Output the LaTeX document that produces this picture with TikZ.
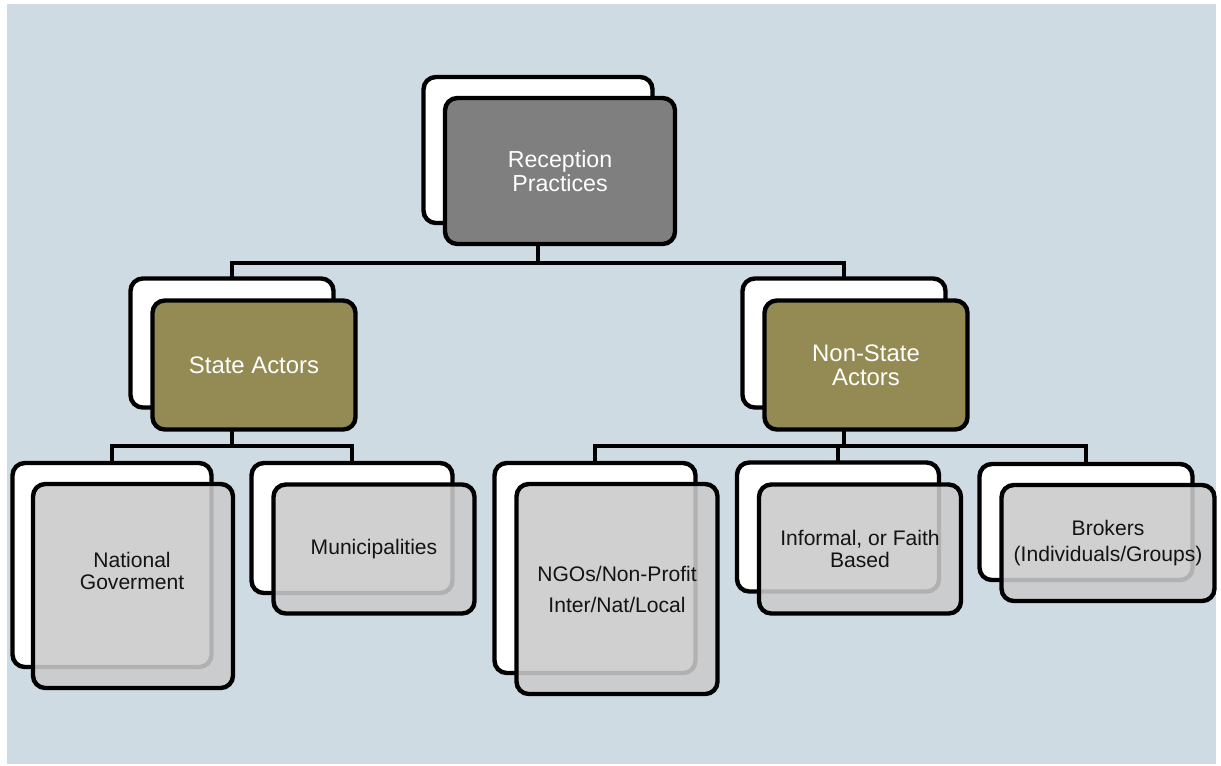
\documentclass[tikz,border=0pt]{standalone}
\usepackage{fontspec}
\setmainfont{Liberation Sans}
\usepackage{tikz}
\usetikzlibrary{backgrounds}
\usepackage{xcolor}
\definecolor{bgblue}{RGB}{207,219,227}
\definecolor{rootgray}{RGB}{127,127,127}
\definecolor{actorolive}{RGB}{148,138,84}
\definecolor{leafgray}{RGB}{202,202,202}
\definecolor{leaftext}{RGB}{20,20,20}

\begin{document}
\begin{tikzpicture}[x=0.02cm,y=-0.02cm,
  conn/.style={line width=2.3pt},
  boxsize/.style 2 args={minimum width=#1*0.02cm,minimum height=#2*0.02cm},
  back/.style={draw,line width=2.5pt,rounded corners=7pt,fill=white,inner sep=0pt,outer sep=0pt},
  front/.style={back,align=center},
  rootbox/.style={front,fill=rootgray,text=white,font=\fontsize{13.2}{13.8}\selectfont},
  actorbox/.style={front,fill=actorolive,text=white,font=\fontsize{13.6}{13.6}\selectfont},
  leaftxt/.style={align=center,text=leaftext,font=\fontsize{12}{12.6}\selectfont},
  leafbox/.style={front,leaftxt,fill=leafgray,fill opacity=0.88,text opacity=1}
  ]
\useasboundingbox (0,0) rectangle (1221,765);
% root
\node[back,boxsize={229}{146}] (rpB) at (538,150) {};
\node[rootbox,boxsize={230}{146}] (rp) at (560,171) {Reception\\Practices};
% actors
\node[back,boxsize={203}{129}] (saB) at (232,343) {};
\node[actorbox,boxsize={203}{129}] (sa) at (254,365) {State Actors};
\node[back,boxsize={203}{129}] (nsaB) at (844,343) {};
\node[actorbox,boxsize={203}{129}] (nsa) at (866,365) {Non-State\\Actors};
% state side
\node[back,boxsize={199}{204}] (natB) at (112,565) {};
\node[leafbox,boxsize={200}{204}] (nat) at (133,586) {};
\node[leaftxt] (natT) at (132,571) {National\\Goverment};
\node[back,boxsize={201}{130}] (muB) at (352,528) {};
\node[leafbox,boxsize={201}{129}] (mu) at (374,549) {Municipalities};
% non-state side
\node[back,boxsize={201}{210}] (ngoB) at (595,568) {};
\node[leafbox,boxsize={201}{210}] (ngo) at (617,589) {NGOs/Non-Profit\\[5pt]Inter/Nat/Local};
\node[back,boxsize={202}{129}] (infB) at (838,527) {};
\node[leafbox,boxsize={202}{129}] (inf) at (860,549) {Informal, or Faith\\Based};
\node[back,boxsize={213}{116}] (brB) at (1086,522) {};
\node[leafbox,boxsize={213}{116}] (br) at (1108,543) {Brokers\\[2pt](Individuals/Groups)};

\coordinate (j1) at (538,263);
\coordinate (j2) at (232,446);
\coordinate (j3) at (844,446);
\begin{scope}[on background layer]
\fill[bgblue] (7,4) rectangle (1216,764);
\draw[conn] (rpB.south) -- (j1);
\draw[conn] (saB.north) |- (j1) -| (nsaB.north);
\draw[conn] (saB.south) -- (j2);
\draw[conn] (natB.north) |- (j2) -| (muB.north);
\draw[conn] (nsaB.south) -- (j3);
\draw[conn] (ngoB.north) |- (j3) -| (brB.north);
\draw[conn] (infB.north) -- (infB.north |- j3);
\end{scope}
\end{tikzpicture}
\end{document}
